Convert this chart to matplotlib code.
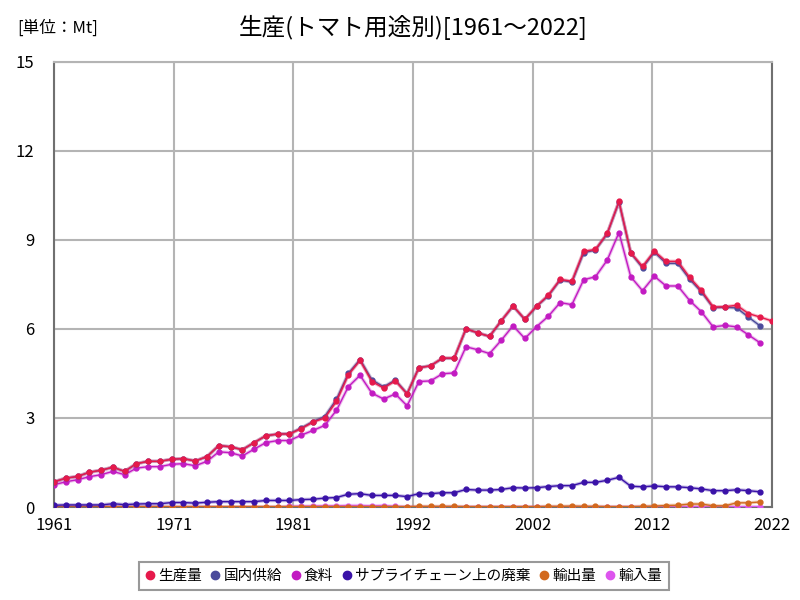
import numpy as np
import matplotlib
matplotlib.use('Agg')
import matplotlib.pyplot as plt

plt.rcParams['font.family'] = ['Noto Sans CJK JP', 'DejaVu Sans']

years = list(range(1961, 2023))

# 生産量 (1961-2022)
production = [0.85, 0.97, 1.03, 1.17, 1.24, 1.34, 1.20, 1.46, 1.54, 1.54,
              1.61, 1.63, 1.55, 1.70, 2.07, 2.03, 1.93, 2.17, 2.40, 2.46,
              2.46, 2.64, 2.86, 3.00, 3.56, 4.45, 4.94, 4.23, 4.01, 4.25,
              3.81, 4.69, 4.76, 5.02, 5.02, 6.01, 5.87, 5.75, 6.28, 6.78,
              6.33, 6.77, 7.14, 7.67, 7.61, 8.62, 8.68, 9.22, 10.30, 8.57,
              8.11, 8.62, 8.28, 8.28, 7.74, 7.30, 6.74, 6.75, 6.80, 6.52,
              6.40, 6.27]

# 国内供給 (1961-2021)
supply = [0.85, 0.97, 1.03, 1.17, 1.24, 1.34, 1.20, 1.46, 1.54, 1.54,
          1.61, 1.63, 1.55, 1.70, 2.07, 2.03, 1.93, 2.17, 2.40, 2.46,
          2.47, 2.66, 2.88, 3.05, 3.63, 4.50, 4.97, 4.29, 4.05, 4.28,
          3.82, 4.70, 4.76, 5.01, 5.01, 6.00, 5.87, 5.75, 6.27, 6.77,
          6.32, 6.76, 7.12, 7.65, 7.58, 8.57, 8.66, 9.21, 10.28, 8.56,
          8.06, 8.59, 8.21, 8.21, 7.68, 7.25, 6.72, 6.73, 6.71, 6.40,
          6.10]

# 食料 (1961-2021)
food = [0.75, 0.85, 0.92, 1.02, 1.09, 1.20, 1.09, 1.31, 1.36, 1.36,
        1.44, 1.46, 1.39, 1.54, 1.86, 1.83, 1.72, 1.95, 2.17, 2.24,
        2.24, 2.42, 2.58, 2.75, 3.26, 4.05, 4.44, 3.84, 3.64, 3.81,
        3.41, 4.23, 4.25, 4.49, 4.52, 5.40, 5.30, 5.17, 5.62, 6.11,
        5.68, 6.08, 6.43, 6.89, 6.82, 7.66, 7.76, 8.32, 9.25, 7.76,
        7.29, 7.78, 7.45, 7.45, 6.96, 6.58, 6.07, 6.12, 6.07, 5.80,
        5.53]

# サプライチェーン上の廃棄 (1961-2021)
waste = [0.06, 0.07, 0.07, 0.07, 0.07, 0.11, 0.08, 0.10, 0.11, 0.11,
         0.15, 0.15, 0.13, 0.16, 0.18, 0.18, 0.18, 0.18, 0.22, 0.22,
         0.22, 0.25, 0.26, 0.30, 0.32, 0.43, 0.45, 0.39, 0.39, 0.39,
         0.35, 0.45, 0.45, 0.48, 0.48, 0.59, 0.57, 0.57, 0.59, 0.65,
         0.64, 0.65, 0.69, 0.72, 0.72, 0.83, 0.83, 0.90, 1.00, 0.70,
         0.68, 0.71, 0.68, 0.68, 0.65, 0.61, 0.55, 0.55, 0.58, 0.55,
         0.51]

# 輸出量 (1961-2021)
exports = [0.01] * 30 + \
          [0.01, 0.02, 0.02, 0.02, 0.02, 0.01, 0.01, 0.01, 0.01, 0.01,
           0.01, 0.01, 0.02, 0.02, 0.03, 0.02, 0.02, 0.01, 0.01, 0.01,
           0.02, 0.03, 0.05, 0.06, 0.10, 0.10, 0.04, 0.04, 0.14, 0.14,
           0.17]

# 輸入量 (1961-2021)
imports = [0.00] * 20 + \
          [0.02, 0.03, 0.03, 0.04, 0.04, 0.05, 0.05, 0.04, 0.05, 0.02] + \
          [0.01] * 31

series = [
    ('生産量', production, '#e6194b'),
    ('国内供給', supply, '#4b4b9b'),
    ('食料', food, '#c21bc2'),
    ('サプライチェーン上の廃棄', waste, '#3a12a8'),
    ('輸出量', exports, '#d2691e'),
    ('輸入量', imports, '#dd55ee'),
]

fig = plt.figure(figsize=(8, 6), dpi=100)
ax = fig.add_axes([0.0675, 0.155, 0.8975, 0.7417])

n = len(series)
for i, (name, vals, col) in enumerate(series):
    x = years[:len(vals)]
    z = 10 + (n - i) * 2
    ax.plot(x, vals, color=col, lw=2.5, alpha=0.3, zorder=z)
    ax.plot(x, vals, color=col, lw=1, marker='o', ms=3.5,
            label=name, zorder=z + 1)

ax.set_xlim(1961, 2022)
ax.set_ylim(0, 15)
xt = np.linspace(1961, 2022, 7)
ax.set_xticks(xt)
ax.set_xticklabels([str(round(t)) for t in xt])
ax.set_yticks([0, 3, 6, 9, 12, 15])
ax.tick_params(length=0, labelsize=12)
ax.tick_params(axis='y', pad=14)
ax.tick_params(axis='x', pad=7)

ax.grid(True, color='#b4b4b4', lw=1.5)
ax.set_axisbelow(True)
for s in ['left', 'bottom', 'right']:
    ax.spines[s].set_color('#707070')
    ax.spines[s].set_linewidth(1.5)
ax.spines['top'].set_color('#b4b4b4')
ax.spines['top'].set_linewidth(1.5)

fig.text(0.517, 0.955, '生産(トマト用途別)[1961～2022]', ha='center', va='center',
         fontsize=17)
fig.text(0.022, 0.953, '[単位：Mt]', ha='left', va='center', fontsize=12)

leg = fig.legend(loc='center', bbox_to_anchor=(0.505, 0.04), ncol=6,
                 fontsize=10.5, handlelength=0.5, handletextpad=0.3,
                 columnspacing=0.7, fancybox=False, borderpad=0.5)
leg.get_frame().set_edgecolor('#808080')
leg.get_frame().set_linewidth(1.5)
for h in leg.legend_handles:
    h.set_linestyle('')
    h.set_markersize(6)
    h.set_alpha(1)

fig.savefig('out.png', dpi=100)
